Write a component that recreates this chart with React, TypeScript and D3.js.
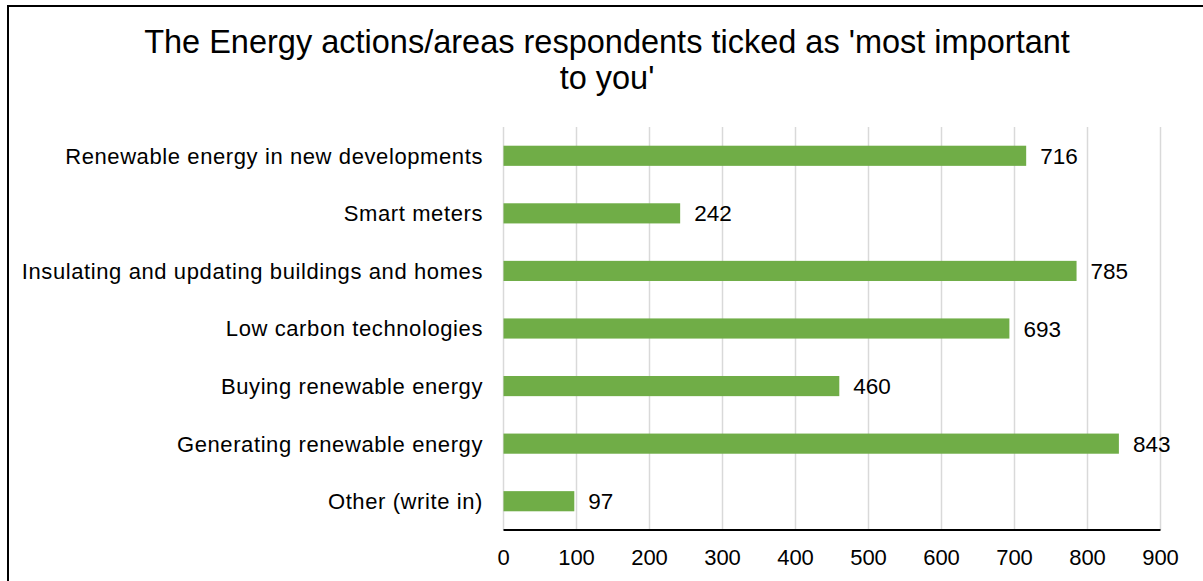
import React from "react";
import * as d3 from "d3";

const categories = [
  "Renewable energy in new developments",
  "Smart meters",
  "Insulating and updating buildings and homes",
  "Low carbon technologies",
  "Buying renewable energy",
  "Generating renewable energy",
  "Other (write in)",
];
const values = [716, 242, 785, 693, 460, 843, 97];
const xTicks = [0, 100, 200, 300, 400, 500, 600, 700, 800, 900];
const titleLines = ["The Energy actions/areas respondents ticked as 'most important", "to you'"];

const W = 1203;
const H = 581;
const FONT = "'Liberation Sans', Arial, sans-serif";

export default function App() {
  const x = d3.scaleLinear().domain([0, 900]).range([503.5, 1160.5]);
  const y = d3.scaleBand<string>().domain(categories).range([127, 530]).paddingInner(0.65).paddingOuter(0.325);
  return (
    <svg width={W} height={H} style={{ position: "absolute", left: 0, top: 0 }} fontFamily={FONT}>
      <rect x={0} y={0} width={W} height={H} fill="#fff" />
      <rect x={8} y={6} width={W + 20} height={H + 20} fill="none" stroke="#000" strokeWidth={2} />
      {titleLines.map((t, i) => (
        <text key={i} x={607} y={53 + i * 36} textAnchor="middle" fontSize={32.5} fill="#000">
          {t}
        </text>
      ))}
      {xTicks.map((t) => (
        <line key={"g" + t} x1={x(t)} x2={x(t)} y1={127} y2={530} stroke="#d9d9d9" strokeWidth={1.5} />
      ))}
      {categories.map((c, i) => (
        <g key={c}>
          <rect x={x(0)} y={y(c)!} width={x(values[i]) - x(0)} height={y.bandwidth()} fill="#70ad47" />
          <text x={x(values[i]) + 14} y={y(c)! + y.bandwidth() / 2} dy="0.36em" fontSize={22.5} fill="#000">
            {values[i]}
          </text>
          <text x={483} y={y(c)! + y.bandwidth() / 2} dy="0.36em" textAnchor="end" fontSize={22} letterSpacing={0.6} fill="#000">
            {c}
          </text>
        </g>
      ))}
      <line x1={x(0)} x2={x(900)} y1={530} y2={530} stroke="#000" strokeWidth={2} />
      {xTicks.map((t) => (
        <text key={"t" + t} x={x(t)} y={565} textAnchor="middle" fontSize={22} fill="#000">
          {t}
        </text>
      ))}
    </svg>
  );
}
